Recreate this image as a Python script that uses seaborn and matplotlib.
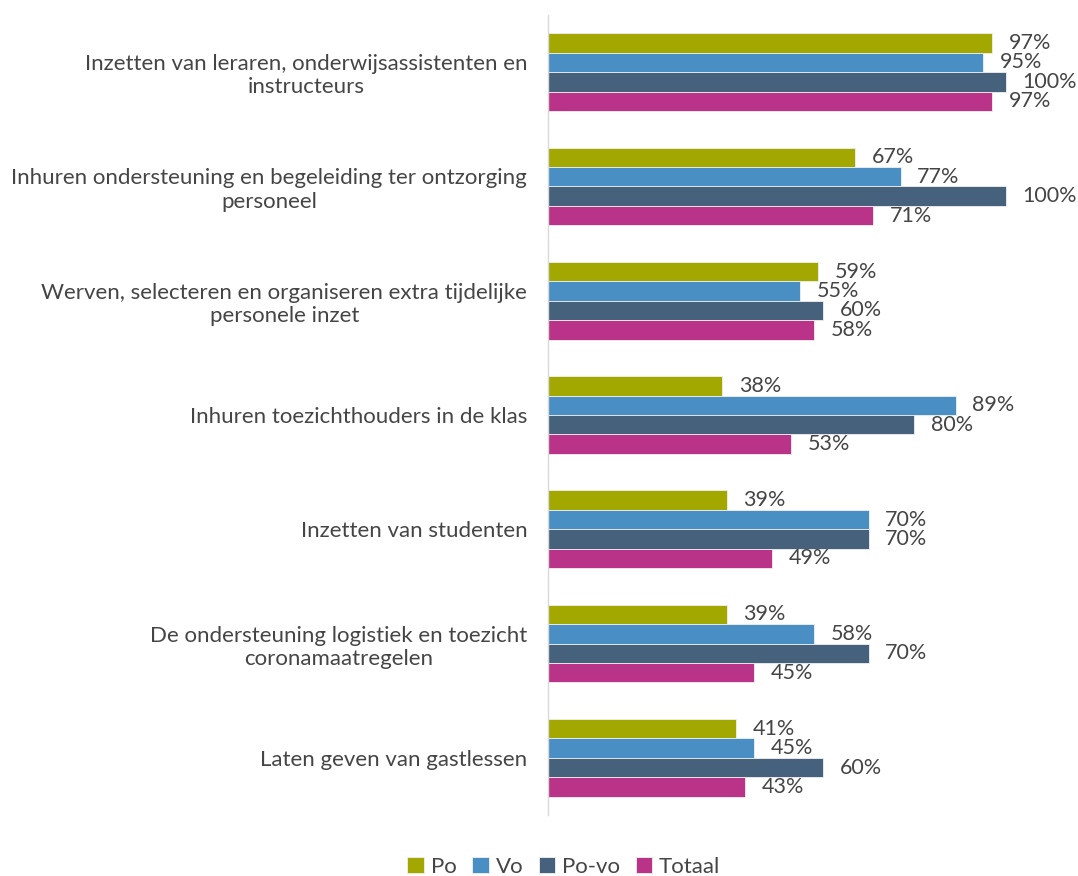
import matplotlib
matplotlib.use("Agg")
import matplotlib.pyplot as plt
import seaborn as sns
import pandas as pd

categories = [
    "Inzetten van leraren, onderwijsassistenten en\ninstructeurs",
    "Inhuren ondersteuning en begeleiding ter ontzorging\npersoneel",
    "Werven, selecteren en organiseren extra tijdelijke\npersonele inzet",
    "Inhuren toezichthouders in de klas",
    "Inzetten van studenten",
    "De ondersteuning logistiek en toezicht\ncoronamaatregelen",
    "Laten geven van gastlessen",
]
series = ["Po", "Vo", "Po-vo", "Totaal"]
po = [97, 67, 59, 38, 39, 39, 41]
vo = [95, 77, 55, 89, 70, 58, 45]
povo = [100, 100, 60, 80, 70, 70, 60]
totaal = [97, 71, 58, 53, 49, 45, 43]
colors = ["#a3a800", "#4a8fc4", "#46617b", "#b93488"]

rows = []
for s, vals in zip(series, [po, vo, povo, totaal]):
    for c, v in zip(categories, vals):
        rows.append({"cat": c, "serie": s, "val": v})
df = pd.DataFrame(rows)

sns.set_style("white")
plt.rcParams["font.family"] = ["Lato", "DejaVu Sans"]
text_color = "#454545"

fig = plt.figure(figsize=(10.78, 8.76), dpi=100)
ax = fig.add_axes([548 / 1078, 1 - 815 / 876, 513 / 1078, 800 / 876])

sns.barplot(data=df, y="cat", x="val", hue="serie", order=categories,
            hue_order=series, palette=colors, orient="h", width=0.68,
            saturation=1, edgecolor="#f0f0f0", linewidth=0.6, ax=ax)

for cont in ax.containers:
    ax.bar_label(cont, labels=[f"{int(round(v))}%" for v in cont.datavalues],
                 padding=12, fontsize=15.5, color=text_color)

ax.set_xlim(0, 112)
ax.set_ylim(len(categories) - 0.5, -0.5)
ax.set_xlabel("")
ax.set_ylabel("")
ax.set_xticks([])
for side in ["top", "right", "bottom"]:
    ax.spines[side].set_visible(False)
ax.spines["left"].set_color("#d9d9d9")
ax.spines["left"].set_linewidth(1)
ax.tick_params(axis="y", length=0, pad=15, labelsize=16, labelcolor=text_color)
for lbl in ax.get_yticklabels():
    lbl.set_multialignment("center")

leg = ax.get_legend()
handles, labels = ax.get_legend_handles_labels()
leg.remove()
fig.legend(handles, labels, loc="center", bbox_to_anchor=(0.523, 1 - 867 / 876),
           ncol=4, frameon=False, fontsize=16, handlelength=0.75,
           handleheight=0.75, handletextpad=0.3, columnspacing=0.7,
           labelcolor=text_color)

fig.savefig("out.png", dpi=100)
